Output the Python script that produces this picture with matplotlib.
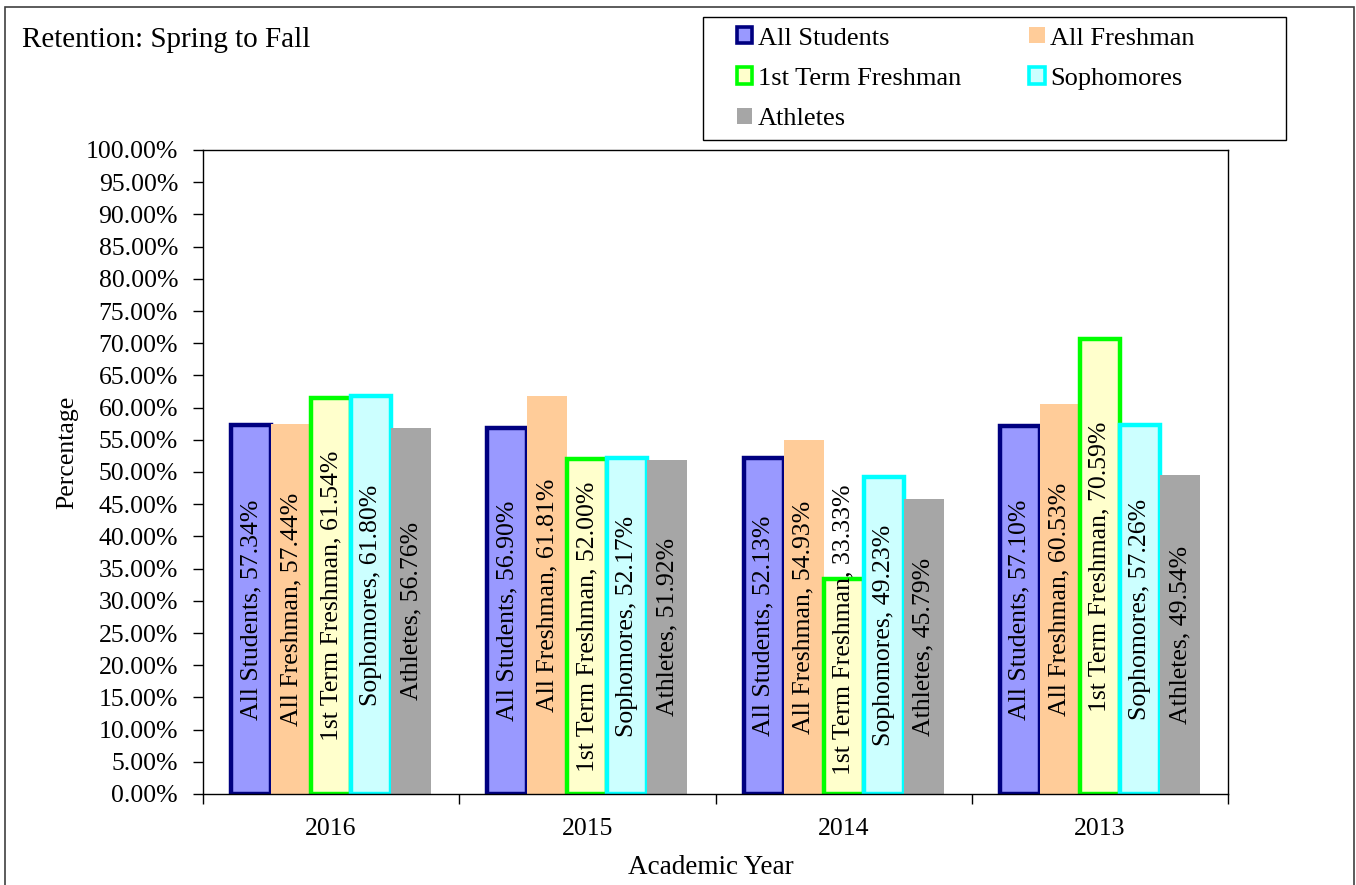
import numpy as np
import matplotlib
matplotlib.use('Agg')
import matplotlib.pyplot as plt
import matplotlib.patches as patches
from matplotlib.ticker import FuncFormatter, MultipleLocator, FixedLocator

plt.rcParams['font.family'] = ['Liberation Serif', 'DejaVu Serif']

# 数据
years = ['2016', '2015', '2014', '2013']
series_names = ['All Students', 'All Freshman', '1st Term Freshman', 'Sophomores', 'Athletes']
all_students = [57.34, 56.90, 52.13, 57.10]
all_freshman = [57.44, 61.81, 54.93, 60.53]
first_term = [61.54, 52.00, 33.33, 70.59]
sophomores = [61.80, 52.17, 49.23, 57.26]
athletes = [56.76, 51.92, 45.79, 49.54]

series_values = [all_students, all_freshman, first_term, sophomores, athletes]
face_colors = ['#9999FF', '#FFCC99', '#FFFFCC', '#CCFFFF', '#A6A6A6']
edge_colors = ['#000080', '#FFCC99', '#00FF00', '#00FFFF', '#A6A6A6']
edge_widths = [3.2, 0, 3.2, 3.2, 0]

FS = 18.5

fig = plt.figure(figsize=(13.56, 8.85), dpi=100)
ax = fig.add_axes([203/1356, 1 - 794/885, (1228-203)/1356, (794-150)/885])

# 外框
fig.patches.append(patches.Rectangle((5/1356, -0.05), (1354-5)/1356, 1.05 - 7/885,
                                     transform=fig.transFigure, fill=False,
                                     edgecolor='#404040', linewidth=1.2))

x = np.arange(len(years))
w = 40 / 256
texts = []
for j, (name, vals) in enumerate(zip(series_names, series_values)):
    pos = x + (j - 2) * w
    ax.bar(pos, vals, width=w, color=face_colors[j], edgecolor=edge_colors[j],
           linewidth=edge_widths[j], zorder=2 + j * 0.1)
    for p, v in zip(pos, vals):
        t = ax.text(p, v / 2, f'{name}, {v:.2f}%', rotation=90, ha='center', va='center',
                    fontsize=FS, zorder=5)
        texts.append((t, p, v))

ax.set_xlim(-0.5, 3.5)
ax.set_ylim(0, 100)
ax.yaxis.set_major_locator(MultipleLocator(5))
ax.yaxis.set_major_formatter(FuncFormatter(lambda v, _: f'{v:.2f}%'))
ax.set_xticks(x)
ax.set_xticklabels(years)
ax.xaxis.set_minor_locator(FixedLocator([-0.5, 0.5, 1.5, 2.5, 3.5]))
ax.tick_params(axis='x', which='major', length=0, pad=17, labelsize=FS)
ax.tick_params(axis='x', which='minor', length=7, width=1, direction='out')
ax.tick_params(axis='y', which='major', length=7, width=1, direction='out', pad=11, labelsize=FS)
for s in ax.spines.values():
    s.set_linewidth(1)
    s.set_color('black')

ax.set_xlabel('Academic Year', fontsize=19.5)
ax.xaxis.set_label_coords(0.495, -0.095)
ax.set_ylabel('Percentage', fontsize=FS)
ax.yaxis.set_label_coords(-0.122, 0.53)

fig.text(22/1356, 1 - 40/885, 'Retention: Spring to Fall', fontsize=21, va='center', ha='left')

# 标签贴底调整
fig.canvas.draw()
r = fig.canvas.get_renderer()
ax_bottom = ax.get_window_extent(r).y0
for t, p, v in texts:
    bb = t.get_window_extent(r)
    if bb.y0 < ax_bottom + 19:
        shift = ax_bottom + 19 - bb.y0
        y_disp = ax.transData.transform((p, v / 2))[1] + shift
        t.set_y(ax.transData.inverted().transform((0, y_disp))[1])

# 图例
fig.patches.append(patches.Rectangle((703/1356, 1 - 140/885), (1286-703)/1356, (140-17)/885,
                                     transform=fig.transFigure, fill=False,
                                     edgecolor='black', linewidth=1))
handles = [patches.Patch(facecolor=face_colors[j], edgecolor=edge_colors[j],
                         linewidth=2.6 if edge_widths[j] else 0) for j in range(5)]
order = [0, 2, 4, 1, 3]
fig.legend([handles[k] for k in order], [series_names[k] for k in order], ncol=2,
           loc='upper left', bbox_to_anchor=(737/1356, 1 - 27/885), frameon=False, fontsize=19,
           handlelength=0.58, handleheight=0.58, handletextpad=0.2,
           columnspacing=2.6, labelspacing=0.68, borderpad=0, borderaxespad=0)

fig.savefig('out.png', dpi=100)
